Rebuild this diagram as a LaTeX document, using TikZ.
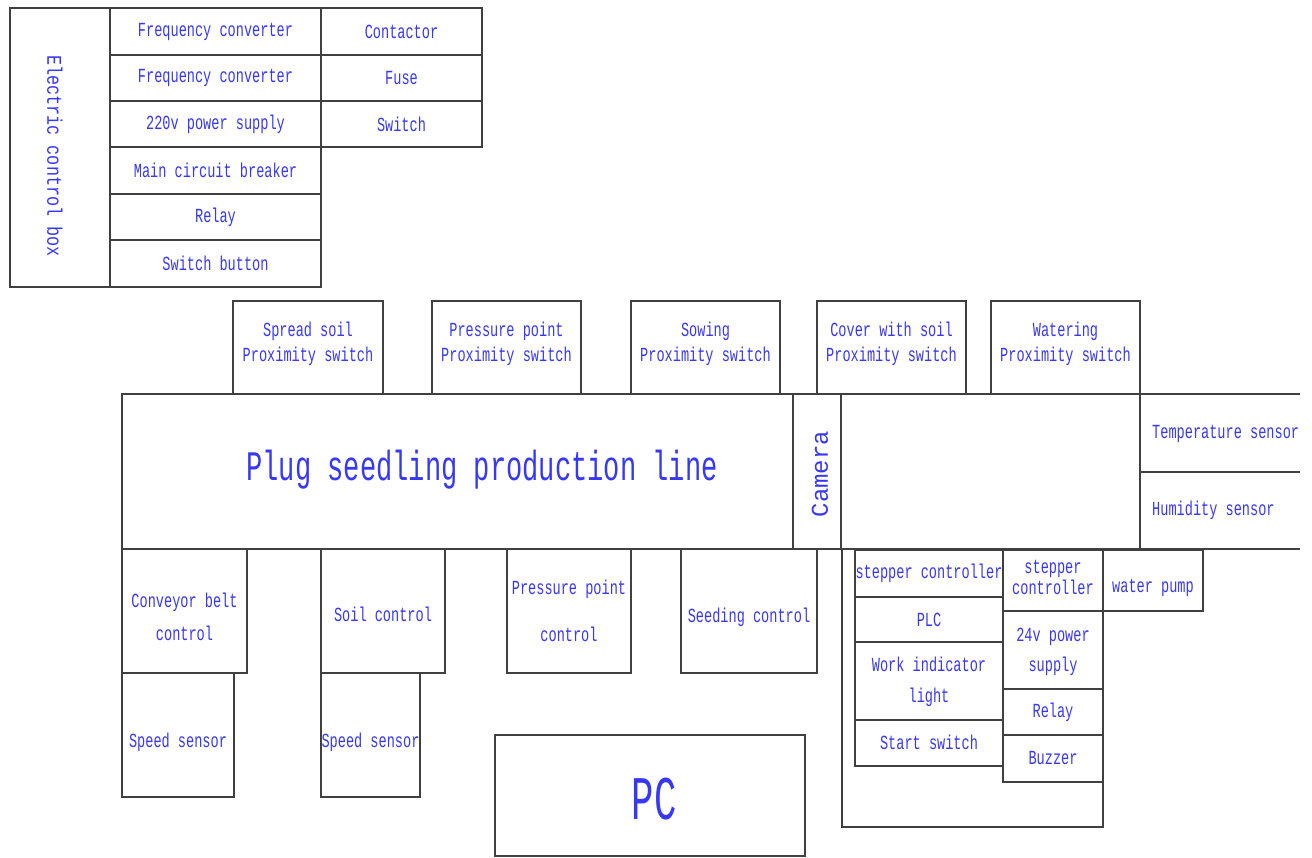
\documentclass[tikz,border=0pt]{standalone}
\usepackage{fontspec}
\newfontfamily\mono[FakeStretch=0.68]{Liberation Mono}
\newfontfamily\monoe[FakeStretch=0.8]{Liberation Mono}
\newfontfamily\monot[FakeStretch=0.645]{Liberation Mono}
\newfontfamily\monop[FakeStretch=0.6]{Liberation Mono}
\newfontfamily\monoc{Liberation Mono}
\definecolor{txt}{RGB}{55,55,250}
\definecolor{ln}{RGB}{64,64,64}
\tikzset{
  box/.style={draw=ln, line width=1.6pt, inner sep=0pt},
  lbl/.style={inner sep=0pt, text=txt, align=center, font=\mono\fontsize{20}{25}\selectfont},
  edge/.style={draw=ln, line width=1.6pt}
}
% \bx[text options]{name}{x1}{y1}{x2}{y2}{dy}{text}
\newcommand\bx[8][]{%
  \node[box,minimum width={#5-#3},minimum height={#6-#4}] (#2) at ({(#3+#5)/2},{(#4+#6)/2}) {};
  \node[lbl,#1] (#2-t) at ({(#3+#5)/2},{(#4+#6)/2+#7}) {#8};}
\begin{document}
\begin{tikzpicture}[x=1pt,y=-1pt]
\useasboundingbox[fill=white] (0,0) rectangle (1312,858);
% Electric control box
\node[box,minimum width=100pt,minimum height=279pt] (ecb) at (60,147.5) {};
\node[lbl, rotate=-90, font=\monoe\fontsize{21}{25}\selectfont] (ecbt) at (55,156) {Electric control box};
\bx{fc1}{110}{8}{321}{55}{0}{Frequency converter}
\bx{fc2}{110}{55}{321}{101}{0}{Frequency converter}
\bx{ps220}{110}{101}{321}{147}{0}{220v power supply}
\bx{mcb}{110}{147}{321}{194}{0}{Main circuit breaker}
\bx{rel1}{110}{194}{321}{240}{0}{Relay}
\bx{swb}{110}{240}{321}{287}{0}{Switch button}
\bx{con}{321}{8}{482}{55}{0}{Contactor}
\bx{fuse}{321}{55}{482}{101}{0}{Fuse}
\bx{swt}{321}{101}{482}{147}{0}{Switch}
% proximity switches
\bx{px1}{233}{301}{383}{394}{-4}{Spread soil\\Proximity switch}
\bx{px2}{432}{301}{581}{394}{-4}{Pressure point\\Proximity switch}
\bx{px3}{631}{301}{780}{394}{-4}{Sowing\\Proximity switch}
\bx{px4}{817}{301}{966}{394}{-4}{Cover with soil\\Proximity switch}
\bx{px5}{991}{301}{1140}{394}{-4}{Watering\\Proximity switch}
% production line
\node[box,minimum width=671pt,minimum height=155pt] (main) at (457.5,471.5) {};
\node[lbl, font=\monot\fontsize{42}{48}\selectfont] (title) at (482,470) {Plug seedling production line};
\node[box,minimum width=48pt,minimum height=155pt] (cam) at (817,471.5) {};
\node[lbl, rotate=90, font=\monoc\fontsize{24}{28}\selectfont] (camt) at (820,474) {Camera};
\node[box,minimum width=299pt,minimum height=155pt] (rbox) at (990.5,471.5) {};
\node[inner sep=0pt, minimum width=160pt, minimum height=78pt] (temp) at (1220,433) {};
\node[inner sep=0pt, minimum width=160pt, minimum height=77pt] (hum) at (1220,510.5) {};
\node[lbl, anchor=west] (tempt) at (1152,434) {Temperature sensor};
\node[lbl, anchor=west] (humt) at (1152,510) {Humidity sensor};
\draw[edge] (temp.north west) -- (temp.north east);
\draw[edge] (temp.south west) -- (temp.south east);
\draw[edge] (hum.south west) -- (hum.south east);
% lower boxes
\bx{cbc}{122}{549}{247}{673}{6}{Conveyor belt\\[8pt]control}
\bx{ss1}{122}{673}{234}{797}{7}{Speed sensor}
\bx{soil}{321}{549}{445}{673}{3}{Soil control}
\bx{ss2}{321}{673}{420}{797}{7}{Speed sensor}
\bx{ppc}{507}{549}{631}{673}{0}{Pressure point\\[22pt]control}
\bx{sdc}{681}{549}{817}{673}{6}{Seeding control}
\bx[font=\monop\fontsize{62}{66}\selectfont, xshift=4pt]{pc}{495}{735}{805}{856}{4}{PC}
% control cabinet
\node[box,minimum width=261pt,minimum height=278pt] (cab) at (972.5,688) {};
\bx{stc1}{855}{550}{1003}{597}{0}{stepper controller}
\bx{plc}{855}{597}{1003}{642}{0}{PLC}
\bx{wil}{855}{642}{1003}{720}{1}{Work indicator\\[6pt]light}
\bx{ssw}{855}{720}{1003}{766}{-1}{Start switch}
\bx{stc2}{1003}{550}{1103}{611}{-3}{stepper\\[-4pt]controller}
\bx{p24}{1003}{611}{1103}{689}{2}{24v power\\[5pt]supply}
\bx{rel2}{1003}{689}{1103}{735}{0}{Relay}
\bx{buz}{1003}{735}{1103}{782}{0}{Buzzer}
\bx{wp}{1103}{550}{1203}{611}{7}{water pump}
\end{tikzpicture}
\end{document}
